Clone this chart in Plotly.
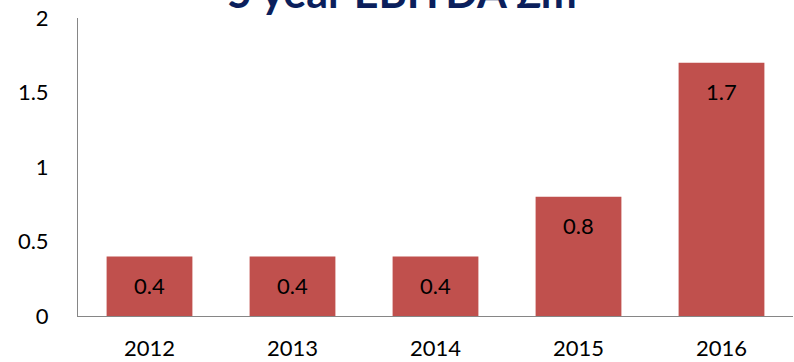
import plotly.graph_objects as go

years = ["2012", "2013", "2014", "2015", "2016"]
ebitda = [0.4, 0.4, 0.4, 0.8, 1.7]
labels = ["0.4", "0.4", "0.4", "0.8", "1.7"]
y_ticks = [0, 0.5, 1, 1.5, 2]
y_tick_text = ["0", "0.5", "1", "1.5", "2"]
title_text = "5 year EBITDA £m"

FONT = "Lato"

fig = go.Figure()
fig.add_trace(go.Bar(
    x=years, y=ebitda,
    marker=dict(color="#C0504D", line=dict(width=0)),
    hoverinfo="skip",
))

for i, (y, t) in enumerate(zip(ebitda, labels)):
    fig.add_annotation(x=i, y=y, text=t, showarrow=False, yanchor="middle",
                       yshift=-29, font=dict(family=FONT, size=22, color="#000000"))

fig.add_annotation(xref="paper", yref="paper", x=(402 - 78) / 715, y=1,
                   xanchor="center", yanchor="middle", yshift=27,
                   text="<b>" + title_text + "</b>", showarrow=False,
                   font=dict(family=FONT, size=43, color="#0B1F5C"))

fig.update_layout(
    width=794, height=362,
    margin=dict(l=78, r=1, t=18, b=46),
    paper_bgcolor="white", plot_bgcolor="white",
    showlegend=False,
    bargap=0.4,
    xaxis=dict(type="category", range=[-0.5, len(years) - 0.5], automargin=False,
               showline=True, linecolor="#868686", linewidth=1, ticks="",
               tickfont=dict(family=FONT, size=22, color="#000000"),
               ticklabelstandoff=13, showgrid=False, zeroline=False),
    yaxis=dict(range=[0, 2], tickvals=y_ticks, ticktext=y_tick_text, automargin=False,
               showline=True, linecolor="#868686", linewidth=1, ticks="",
               tickfont=dict(family=FONT, size=22, color="#000000"),
               ticklabelstandoff=24, showgrid=False, zeroline=False),
)

fig.write_html("out.html")
